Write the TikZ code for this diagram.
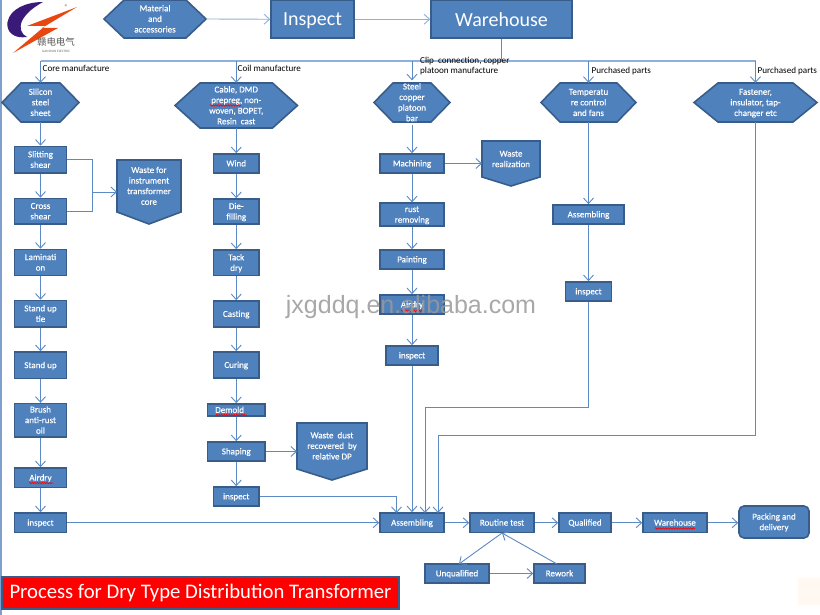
\documentclass[tikz,border=0pt]{standalone}
\usepackage{fontspec}
\setmainfont{Carlito}
\newfontfamily\boxfont[FakeBold=0.35]{Carlito}
\newfontfamily\cjkfont{Noto Sans CJK SC}
\newfontfamily\wmfont{Liberation Sans}
\usetikzlibrary{arrows.meta,decorations.pathmorphing}
\definecolor{fillblue}{HTML}{4F81BD}
\definecolor{edgeblue}{HTML}{385D8A}
\definecolor{linkblue}{HTML}{5B8AC4}
\definecolor{busblue}{HTML}{8FB0DC}
\definecolor{sidebar}{HTML}{7F9FCC}
\definecolor{logopurple}{HTML}{3A1A78}
\definecolor{logoorange}{HTML}{E8480F}
\tikzset{
  shapefill/.style={fill=fillblue,draw=edgeblue,line width=1.6pt,line join=miter},
  boxtext/.style={align=center,text=white,inner sep=0pt,font=\boxfont\fontsize{9}{10.6}\selectfont},
  flowbox/.style={boxtext,shapefill,rectangle},
  ghost/.style={rectangle,inner sep=0pt,outer sep=0pt},
  link/.style={draw=linkblue,line width=0.9pt},
  flow/.style={link,-{Straight Barb[length=5.5pt,width=10pt,line width=0.9pt]}},
  bus/.style={draw=busblue,line width=1.3pt},
  captext/.style={text=black,inner sep=0pt,anchor=west,align=left,font=\fontsize{9.1}{10}\selectfont},
  squig/.style={draw=red,line width=0.6pt,decorate,decoration={snake,amplitude=0.8pt,segment length=2.5pt}},
}
\newcommand\tx[1]{\begin{tabular}{@{}c@{}}\noalign{\vskip1.5pt}#1\end{tabular}}
\newcommand\bx[6][]{%
  \pgfmathsetmacro\cxx{(#3+#5)/2}\pgfmathsetmacro\cyy{(#4+#6)/2}%
  \pgfmathsetmacro\wdd{#5-#3}\pgfmathsetmacro\htt{#6-#4}%
  \node[flowbox,minimum width=\wdd pt,minimum height=\htt pt,#1] (#2) at (\cxx,\cyy) {\tx{\bxtext}};}
\newcommand\hexa[7]{% name x1 y1 x2 y2 inset text
  \pgfmathsetmacro\cxx{(#2+#4)/2}\pgfmathsetmacro\cyy{(#3+#5)/2}%
  \pgfmathsetmacro\wdd{#4-#2}\pgfmathsetmacro\htt{#5-#3}%
  \pgfmathsetmacro\xa{#2+#6}\pgfmathsetmacro\xb{#4-#6}%
  \draw[shapefill] (#2,\cyy) -- (\xa,#3) -- (\xb,#3) -- (#4,\cyy) -- (\xb,#5) -- (\xa,#5) -- cycle;
  \node[boxtext,minimum width=\wdd pt,minimum height=\htt pt] (#1) at (\cxx,\cyy) {\tx{#7}};}
\newcommand\pent[7]{% name x1 y1 x2 y2 shoulder text
  \pgfmathsetmacro\cxx{(#2+#4)/2}\pgfmathsetmacro\cyy{(#3+#5)/2}%
  \pgfmathsetmacro\wdd{#4-#2}\pgfmathsetmacro\htt{#5-#3}%
  \pgfmathsetmacro\tyy{(#3+#6)/2}%
  \draw[shapefill] (#2,#3) -- (#4,#3) -- (#4,#6) -- (\cxx,#5) -- (#2,#6) -- cycle;
  \node[ghost,minimum width=\wdd pt,minimum height=\htt pt] (#1) at (\cxx,\cyy) {};
  \node[boxtext] (#1-t) at (\cxx,\tyy) {\tx{#7}};}
\begin{document}
\begin{tikzpicture}[x=1pt,y=-1pt]
\useasboundingbox (0,0) rectangle (820,615);
\fill[white] (0,0) rectangle (820,615);
\fill[sidebar] (0,0) rectangle (2,615);
% logo
\fill[logopurple] (43,2) .. controls (26,2) and (10,9) .. (7.5,22) .. controls (6,32) and (14,39) .. (27,37) .. controls (21,34) and (19,28) .. (22,21) .. controls (26,13) and (34,7) .. (43,2) -- cycle;
\fill[logoorange] (77,7) -- (27,26) -- (45,26) -- (13,53) -- (58,28) -- (42,28) -- cycle;
\node[inner sep=0pt,font=\fontsize{7}{8}\selectfont,text=black!60] (logoR) at (66.5,7) {®};
\node[inner sep=0pt,font=\cjkfont\fontsize{9.5}{10}\selectfont,text=black!65] (logoCN) at (56,42) {赣电电气};
\node[inner sep=0pt,font=\fontsize{3.4}{4}\selectfont,text=black!60] (logoEN) at (56,51) {GAN DIAN ELECTRIC};
% top row
\hexa{material}{104}{0}{206}{38}{20}{Material\\and\\accessories}
\def\bxtext{\raisebox{-1.5pt}{Inspect}}\bx[font=\fontsize{20}{22}\selectfont]{inspecttop}{271}{0.5}{354}{38}
\def\bxtext{\raisebox{-2pt}{Warehouse}}\bx[font=\fontsize{20}{22}\selectfont]{warehousetop}{431}{0.5}{572}{38}
% bus coordinates
\coordinate (bus1) at (40.5,61);
\coordinate (bus2) at (236.25,61);
\coordinate (bus3) at (412,61);
\coordinate (bus4) at (588.5,61);
\coordinate (bus5) at (755.5,61);
% column 1
\hexa{silicon}{2}{83}{79}{122}{19}{Silicon\\steel\\sheet}
\def\bxtext{Slitting\\shear}\bx{slit}{14.5}{146.5}{66.5}{173}
\def\bxtext{Cross\\shear}\bx{cross}{14.5}{198.5}{66.5}{224}
\def\bxtext{Laminati\\on}\bx{lamin}{14.5}{249.5}{66.5}{275.5}
\def\bxtext{Stand up\\tie}\bx{standtie}{14.5}{300.5}{66.5}{327}
\def\bxtext{Stand up}\bx{standup}{14.5}{352}{66.5}{378.5}
\def\bxtext{Brush\\anti-rust\\oil}\bx{brush}{14.5}{404}{66.5}{436.5}
\def\bxtext{Airdry}\bx{airdry}{14.5}{468}{66.5}{487.5}
\def\bxtext{inspect}\bx{inspecta}{14.5}{513}{66.5}{532.5}
\pent{wastea}{117}{160}{181}{224}{212}{Waste for\\instrument\\transformer\\core}
% column 2
\hexa{cable}{175}{83}{297.5}{128}{25}{Cable, DMD\\prepreg, non-\\woven, BOPET,\\Resin\ \ cast}
\def\bxtext{Wind}\bx{wind}{213.5}{154}{259}{173}
\def\bxtext{Die-\\filling}\bx{die}{213.5}{199}{259}{224}
\def\bxtext{Tack\\dry}\bx{tack}{213.5}{250}{259}{275.5}
\def\bxtext{Casting}\bx{casting}{213.5}{301}{259}{327}
\def\bxtext{Curing}\bx{curing}{213.5}{352}{259}{378}
\def\bxtext{Demold}\bx[text width=42pt,align=left]{demold}{207.5}{404}{265}{416}
\def\bxtext{Shaping}\bx{shaping}{207.5}{442}{265}{461}
\def\bxtext{inspect}\bx{inspectb}{213.5}{487}{259}{506}
\pent{wastedust}{297}{423}{367}{480}{469}{Waste\ \ dust\\recovered\ \ by\\relative DP}
% column 3
\hexa{steel}{374}{83}{450}{122}{19}{Steel\\copper\\platoon\\bar}
\def\bxtext{Machining}\bx{mach}{380}{154}{444}{173}
\def\bxtext{rust\\removing}\bx{rust}{380}{205}{444}{224}
\def\bxtext{Painting}\bx{paint}{380}{250}{444}{269}
\def\bxtext{Airdry}\bx{airdryc}{380}{295}{444}{314}
\def\bxtext{inspect}\bx{inspectc}{386}{346}{438}{365}
\pent{wastec}{482}{141}{540}{186}{177}{Waste\\realization}
% column 4
\hexa{temp}{541}{83}{636}{122}{19}{Temperatu\\re control\\and fans}
\def\bxtext{Assembling}\bx{assemd}{553}{205}{624}{224}
\def\bxtext{inspect}\bx{inspectd}{565.5}{282}{611.5}{301}
% column 5
\hexa{fasten}{694}{83}{817}{122}{24}{Fastener,\\insulator, tap-\\changer etc}
% bottom row
\def\bxtext{Assembling}\bx{assem}{380}{513}{444}{532.5}
\def\bxtext{Routine test}\bx{routine}{470}{513}{534}{532.5}
\def\bxtext{Qualified}\bx{qual}{559}{513}{611}{532.5}
\def\bxtext{Warehouse}\bx{whb}{643}{513}{707}{532.5}
\node[boxtext,shapefill,rounded corners=5pt,minimum width=70pt,minimum height=32pt] (pack) at (774,522) {\tx{Packing and\\delivery}};
\def\bxtext{Unqualified}\bx{unq}{425}{564}{489}{583}
\def\bxtext{Rework}\bx{rework}{534}{564}{585}{583}
% connectors: top
\draw[flow,draw=busblue] (material.east) -- (inspecttop.west);
\draw[flow,draw=busblue] (inspecttop.east) -- (warehousetop.west);
\draw[link,line width=1.3pt] (warehousetop.south) -- (warehousetop.south |- bus3);
\draw[bus] (bus1) -- (bus5);
\draw[flow] (bus1) -- (bus1 |- silicon.north);
\draw[flow] (bus2) -- (bus2 |- cable.north);
\draw[flow] (bus3) -- (bus3 |- steel.north);
\draw[flow] (bus4) -- (bus4 |- temp.north);
\draw[flow] (bus5) -- (bus5 |- fasten.north);
% column 1
\draw[flow] (silicon.south) -- (slit.north);
\draw[flow] (slit.south) -- (cross.north);
\draw[flow] (cross.south) -- (lamin.north);
\draw[flow] (lamin.south) -- (standtie.north);
\draw[flow] (standtie.south) -- (standup.north);
\draw[flow] (standup.south) -- (brush.north);
\draw[flow] (brush.south) -- (airdry.north);
\draw[flow] (airdry.south) -- (inspecta.north);
\coordinate (wjoin) at (92,192);
\draw[link] (slit.east) -| (wjoin);
\draw[link] (cross.east) -| (wjoin);
\draw[flow] (wjoin) -- (wastea.west);
% column 2
\draw[flow] (cable.south) -- (wind.north);
\draw[flow] (wind.south) -- (die.north);
\draw[flow] (die.south) -- (tack.north);
\draw[flow] (tack.south) -- (casting.north);
\draw[flow] (casting.south) -- (curing.north);
\draw[flow] (curing.south) -- (demold.north);
\draw[flow] (demold.south) -- (shaping.north);
\draw[flow] (shaping.south) -- (inspectb.north);
\draw[flow] (shaping.east) -- (shaping.east -| wastedust.west);
% column 3
\draw[flow] (steel.south) -- (mach.north);
\draw[flow] (mach.south) -- (rust.north);
\draw[flow] (rust.south) -- (paint.north);
\draw[flow] (paint.south) -- (airdryc.north);
\draw[flow] (airdryc.south) -- (inspectc.north);
\draw[flow] (mach.east) -- (mach.east -| wastec.west);
% column 4 and 5
\draw[flow] (temp.south) -- (assemd.north);
\draw[flow] (assemd.south) -- (inspectd.north);
% to assembling
\coordinate (asm2) at (396.5,513);
\coordinate (asm3) at (425,513);
\coordinate (asm4) at (438,513);
\coordinate (turn3) at (588.5,407);
\coordinate (turn4) at (755.5,435);
\draw[flow] (inspecta.east) -- (assem.west);
\draw[flow] (inspectb.east) -| (asm2);
\draw[flow] (inspectc.south) -- (inspectc.south |- assem.north);
\draw[link] (inspectd.south) -- (turn3);
\draw[flow] (turn3) -| (asm3);
\draw[link] (fasten.south) -- (turn4);
\draw[flow] (turn4) -| (asm4);
% bottom row
\draw[flow] (assem.east) -- (routine.west);
\draw[flow] (routine.east) -- (qual.west);
\draw[flow] (qual.east) -- (whb.west);
\draw[flow] (whb.east) -- (whb.east -| pack.west);
\coordinate (rtbot) at (502,533);
\coordinate (unqtop) at (459,564);
\coordinate (rwtop) at (557,564);
\draw[flow] (rtbot) -- (unqtop);
\draw[flow] (rwtop) -- (rtbot);
\draw[flow] (unq.east) -- (rework.west);
% captions
\node[captext] (capa) at (42.5,68.5) {Core manufacture};
\node[captext] (capb) at (237.5,68.5) {Coil manufacture};
\node[captext] (capc) at (420,66.5) {Clip\ \ connection, copper\\platoon manufacture};
\node[captext] (capd) at (591.5,71.5) {Purchased parts};
\node[captext] (cape) at (757.5,71.5) {Purchased parts};
% spelling marks
\draw[squig] (210,105.5) -- (241,105.5);
\draw[squig] (216,415) -- (247,415);
\draw[squig] (29,483) -- (53,483);
\draw[squig] (401,311) -- (424,311);
\draw[squig] (655,528.5) -- (695,528.5);
% title
\node[shapefill,fill=red,draw=edgeblue,minimum width=397pt,minimum height=32pt,inner sep=0pt,text=white,font=\fontsize{20.7}{22}\selectfont] (title) at (200.5,593) {Process for Dry Type Distribution Transformer};
% watermark
\node[inner sep=0pt,text=black!40,opacity=0.85,font=\wmfont\fontsize{25}{27}\selectfont] (watermark) at (411,307.5) {jxgddq.en.alibaba.com};
\fill[orange!5] (798,578) rectangle (820,605);
\end{tikzpicture}
\end{document}
